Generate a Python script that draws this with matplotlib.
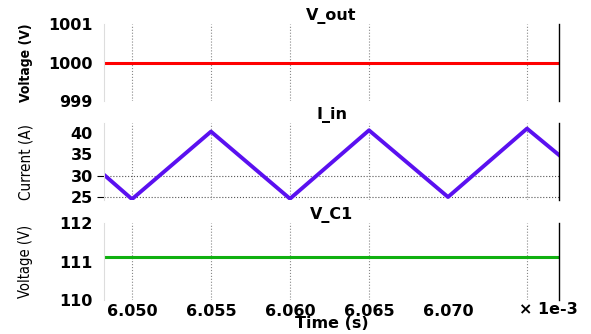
import matplotlib.pyplot as plt

# waveform data (time in units of 1e-3 s)
t_span = [6.04823, 6.07703]
v_out = [1000.0, 1000.0]
t_iin = [6.04823, 6.0500, 6.0550, 6.0600, 6.0650, 6.0700, 6.0750, 6.07703]
i_in = [30.2, 24.5, 40.3, 24.6, 40.6, 25.0, 41.0, 34.8]
v_c1 = [111.12, 111.12]

x_ticks = [6.050, 6.055, 6.060, 6.065, 6.070, 6.075]
x_labels = ['6.050', '6.055', '6.060', '6.065', '6.070', '']

fig = plt.figure(figsize=(5.91, 3.34), dpi=100)

left, width, height = 0.176, 0.770, 0.2305
bottoms = [0.6976, 0.4012, 0.1018]
axs = [fig.add_axes([left, b, width, height]) for b in bottoms]


def style(ax, title, ylabel, yticks, ylim, tick_marks=None, lab_weight='bold', lab_size=10):
    ax.set_xlim(t_span)
    ax.set_ylim(ylim)
    ax.set_yticks(yticks)
    ax.set_yticklabels([str(v) for v in yticks], fontsize=11.5, fontweight='bold')
    ax.set_xticks(x_ticks)
    ax.tick_params(axis='x', length=0)
    ax.tick_params(axis='y', length=5, width=0.8, pad=3)
    for k, tk in enumerate(ax.yaxis.get_major_ticks()):
        if tick_marks is None or yticks[k] not in tick_marks:
            tk.tick1line.set_visible(False)
    for sp in ['top', 'bottom']:
        ax.spines[sp].set_visible(False)
    ax.spines['left'].set_color('#dddddd')
    ax.spines['right'].set_color('black')
    ax.spines['right'].set_linewidth(1.0)
    ax.xaxis.grid(True, linestyle=':', color='#888888', linewidth=0.8)
    ax.xaxis.get_gridlines()[4].set_visible(False)
    ax.set_title(title, fontsize=11.5, fontweight='bold', pad=3)
    ax.set_ylabel(ylabel, fontsize=lab_size, fontstretch='condensed', fontweight=lab_weight)
    ax.yaxis.set_label_coords(-0.156, 0.5)


axs[0].plot(t_span, v_out, color='#ff0000', lw=2.2)
style(axs[0], 'V_out', 'Voltage (V)', [999, 1000, 1001], (999, 1001))

axs[1].plot(t_iin, i_in, color='#5a10f0', lw=2.8)
style(axs[1], 'I_in', 'Current (A)', [25, 30, 35, 40], (24.3, 42.3),
      tick_marks=[25, 30], lab_weight='normal', lab_size=11)
for y in [25, 30]:
    axs[1].axhline(y, color='#555555', linestyle=':', lw=0.8, zorder=0)

axs[2].plot(t_span, v_c1, color='#10b010', lw=2.2)
style(axs[2], 'V_C1', 'Voltage (V)', [110, 111, 112], (110, 112),
      lab_weight='normal', lab_size=10.5)

for ax in axs[:2]:
    ax.set_xticklabels([])
axs[2].set_xticklabels(x_labels, fontsize=11.5, fontweight='bold')
axs[2].tick_params(axis='x', pad=3)
axs[2].set_xlabel('Time (s)', fontsize=11.5, fontweight='bold', labelpad=-2)

fig.text(0.978, 0.072, '\u00d7 1e-3', fontsize=11.5, fontweight='bold', ha='right', va='center')

fig.savefig('out.png', dpi=100)
